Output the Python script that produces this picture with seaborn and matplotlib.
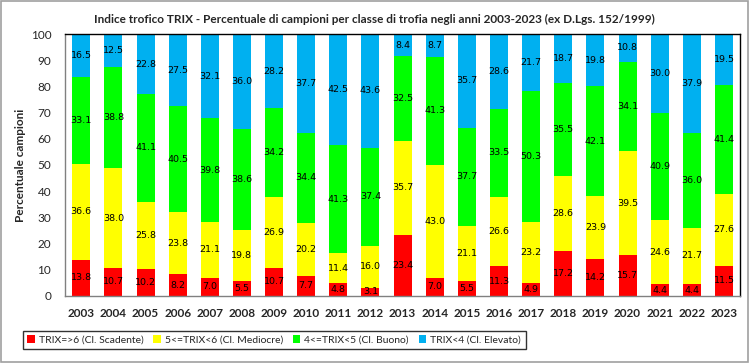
import matplotlib
matplotlib.use("Agg")
import matplotlib.pyplot as plt
import seaborn as sns
import numpy as np
import pandas as pd
from matplotlib.patches import Rectangle, Patch

years = [str(y) for y in range(2003, 2024)]
scadente = [13.8, 10.7, 10.2, 8.2, 7.0, 5.5, 10.7, 7.7, 4.8, 3.1, 23.4, 7.0, 5.5, 11.3, 4.9, 17.2, 14.2, 15.7, 4.4, 4.4, 11.5]
mediocre = [36.6, 38.0, 25.8, 23.8, 21.1, 19.8, 26.9, 20.2, 11.4, 16.0, 35.7, 43.0, 21.1, 26.6, 23.2, 28.6, 23.9, 39.5, 24.6, 21.7, 27.6]
buono = [33.1, 38.8, 41.1, 40.5, 39.8, 38.6, 34.2, 34.4, 41.3, 37.4, 32.5, 41.3, 37.7, 33.5, 50.3, 35.5, 42.1, 34.1, 40.9, 36.0, 41.4]
elevato = [16.5, 12.5, 22.8, 27.5, 32.1, 36.0, 28.2, 37.7, 42.5, 43.6, 8.4, 8.7, 35.7, 28.6, 21.7, 18.7, 19.8, 10.8, 30.0, 37.9, 19.5]

series = [
    ("TRIX=>6 (Cl. Scadente)", scadente, "#ff0000"),
    ("5<=TRIX<6 (Cl. Mediocre)", mediocre, "#ffff00"),
    ("4<=TRIX<5 (Cl. Buono)", buono, "#00ff00"),
    ("TRIX<4 (Cl. Elevato)", elevato, "#00b0f0"),
]

sns.set_theme(style="white")
plt.rcParams['font.family'] = ['Lato', 'DejaVu Sans']

fig = plt.figure(figsize=(7.49, 3.63), dpi=100)
ax = fig.add_axes([0.087, 0.185, 0.901, 0.721])

bottom = np.zeros(len(years))
handles = []
for name, vals, col in series:
    vals = np.array(vals)
    df = pd.DataFrame({"year": years, "val": vals})
    sns.barplot(data=df, x="year", y="val", color=col, bottom=bottom, width=0.56,
                ax=ax, saturation=1, linewidth=0, errorbar=None)
    for i, v in enumerate(vals):
        ax.text(i, bottom[i] + v / 2, f"{v:.1f}", ha="center", va="center",
                fontsize=6.8, color="black", family="DejaVu Sans")
    bottom = bottom + vals
    handles.append(Patch(facecolor=col, edgecolor="none", label=name))

ax.set_xlim(-0.5, len(years) - 0.5)
ax.set_ylim(0, 100)
ax.set_yticks(range(0, 101, 10))
ax.set_xlabel("")
ax.set_ylabel("Percentuale campioni", fontsize=8.5, fontweight="bold", labelpad=3)
ax.tick_params(axis="y", labelsize=8.5, length=0, pad=10)
ax.tick_params(axis="x", labelsize=8.5, length=0, pad=9)
for lab in ax.get_xticklabels():
    lab.set_fontweight("bold")
for s in ax.spines.values():
    s.set_color("black")
    s.set_linewidth(1.0)
ax.spines["bottom"].set_color("#808080")
ax.spines["left"].set_color("#808080")

fig.text(0.5, 0.945, "Indice trofico TRIX - Percentuale di campioni per classe di trofia negli anni 2003-2023 (ex D.Lgs. 152/1999)",
         ha="center", va="center", fontsize=8.5, fontweight="bold")

leg = fig.legend(handles=handles, loc="center", bbox_to_anchor=(0.366, 0.063), ncol=4,
                 fontsize=7.5, frameon=True, fancybox=False, handlelength=0.7, handleheight=0.7,
                 handletextpad=0.4, columnspacing=0.95, borderpad=0.45, borderaxespad=0)
leg.get_frame().set_edgecolor("black")
leg.get_frame().set_linewidth(1.0)

fig.patches.append(Rectangle((0.001, 0.002), 0.997, 0.995, transform=fig.transFigure,
                             fill=False, edgecolor="#a0a0a0", linewidth=1.2))

fig.savefig("out.png", dpi=100)
